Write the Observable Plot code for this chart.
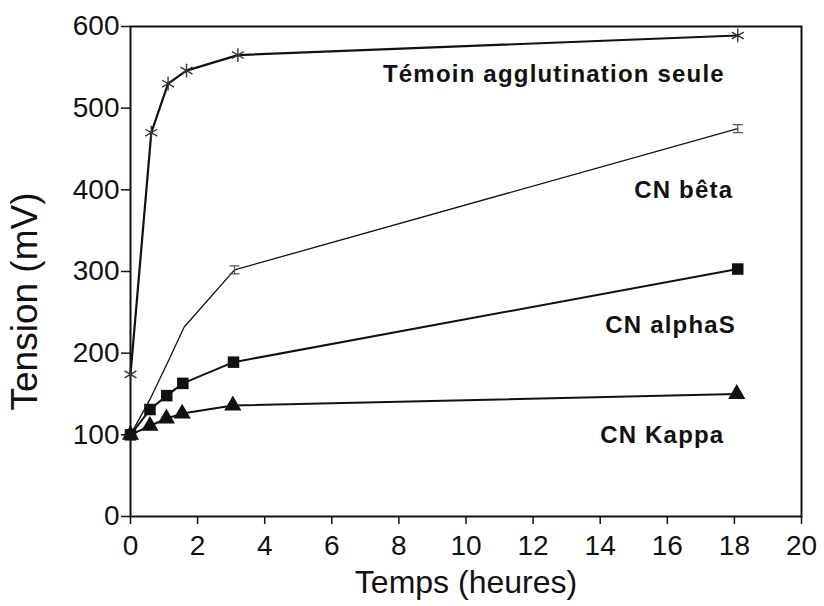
<!DOCTYPE html>
<html><head><meta charset="utf-8">
<script src="https://cdn.jsdelivr.net/npm/d3@7"></script>
<script src="https://cdn.jsdelivr.net/npm/@observablehq/plot@0.6"></script>
<style>
body{margin:0;background:#fff;}
g[font-weight="bold"] text{letter-spacing:1.2px;}
</style></head><body><div id="chart"></div>
<script>
// Data
const temoinTime = [0, 0.62, 1.12, 1.67, 3.2, 18.1];
const temoinValue = [174, 470, 530, 546, 565, 589];
const betaTime = [0, 0.6, 1.1, 1.6, 3.1, 18.1];
const betaValue = [100, 145, 188, 232, 302, 475];
const alphaTime = [0, 0.58, 1.08, 1.56, 3.07, 18.1];
const alphaValue = [100, 131, 148, 163, 189, 303];
const kappaTime = [0, 0.58, 1.07, 1.54, 3.05, 18.07];
const kappaValue = [100, 111, 120, 126, 136, 150];
const seriesLabels = ["Témoin agglutination seule", "CN bêta", "CN alphaS", "CN Kappa"];
const labelTime = [12.62, 16.49, 16.1, 15.85];
const labelValue = [542, 400, 233.5, 100];
const xTicks = [0, 2, 4, 6, 8, 10, 12, 14, 16, 18, 20];
const yTicks = [0, 100, 200, 300, 400, 500, 600];
const xTitle = "Temps (heures)";
const yTitle = "Tension (mV)";

const zip = (ts, vs) => ts.map((t, i) => ({t, v: vs[i]}));
const temoin = zip(temoinTime, temoinValue);
const beta = zip(betaTime, betaValue);
const alpha = zip(alphaTime, alphaValue);
const kappa = zip(kappaTime, kappaValue);
const labels = seriesLabels.map((text, i) => ({text, t: labelTime[i], v: labelValue[i]}));

// I-beam marker for CN bêta
const ibeam = {
  draw(context, size) {
    const w = 5, h = 4;
    context.moveTo(-w, -h); context.lineTo(w, -h);
    context.moveTo(-w, h); context.lineTo(w, h);
    context.moveTo(0, -h); context.lineTo(0, h);
  }
};

const ink = "#111";
const chart = Plot.plot({
  width: 824, height: 606,
  marginLeft: 130, marginRight: 23, marginTop: 26, marginBottom: 90,
  style: {fontFamily: "'Liberation Sans', Arial, sans-serif", background: "#fff", color: ink},
  x: {domain: [0, 20]},
  y: {domain: [0, 600]},
  marks: [
    Plot.axisX({ticks: xTicks, tickSize: 8, tickPadding: 11, fontSize: 28, label: null, strokeWidth: 1.5}),
    Plot.axisY({ticks: yTicks, tickSize: 9, tickPadding: 2, fontSize: 28, label: null, strokeWidth: 1.5}),
    Plot.frame({stroke: ink, strokeWidth: 2}),
    Plot.line(kappa, {x: "t", y: "v", stroke: ink, strokeWidth: 2}),
    Plot.line(alpha, {x: "t", y: "v", stroke: ink, strokeWidth: 2}),
    Plot.line(beta, {x: "t", y: "v", stroke: ink, strokeWidth: 1.3}),
    Plot.line(temoin, {x: "t", y: "v", stroke: ink, strokeWidth: 2.2}),
    Plot.dot(kappa, {x: "t", y: "v", symbol: "triangle", r: 6.4, fill: ink}),
    Plot.dot(alpha, {x: "t", y: "v", symbol: "square", r: 6.5, fill: ink}),
    Plot.dot(beta.slice(4), {x: "t", y: "v", symbol: ibeam, r: 5, stroke: "#555", fill: "none", strokeWidth: 1.2}),
    Plot.dot(temoin, {x: "t", y: "v", symbol: "asterisk", r: 6.5, stroke: "#333", strokeWidth: 1.4}),
    Plot.text(labels, {x: "t", y: "v", text: "text", fontSize: 24, fontWeight: "bold", fill: ink}),
    Plot.text([yTitle], {frameAnchor: "left", textAnchor: "middle", rotate: -90, dx: -105, dy: 30, fontSize: 37, fill: ink}),
    Plot.text([xTitle], {frameAnchor: "bottom", textAnchor: "middle", dy: 76, fontSize: 32, fill: ink})
  ]
});
document.getElementById("chart").appendChild(chart);
</script></body></html>
